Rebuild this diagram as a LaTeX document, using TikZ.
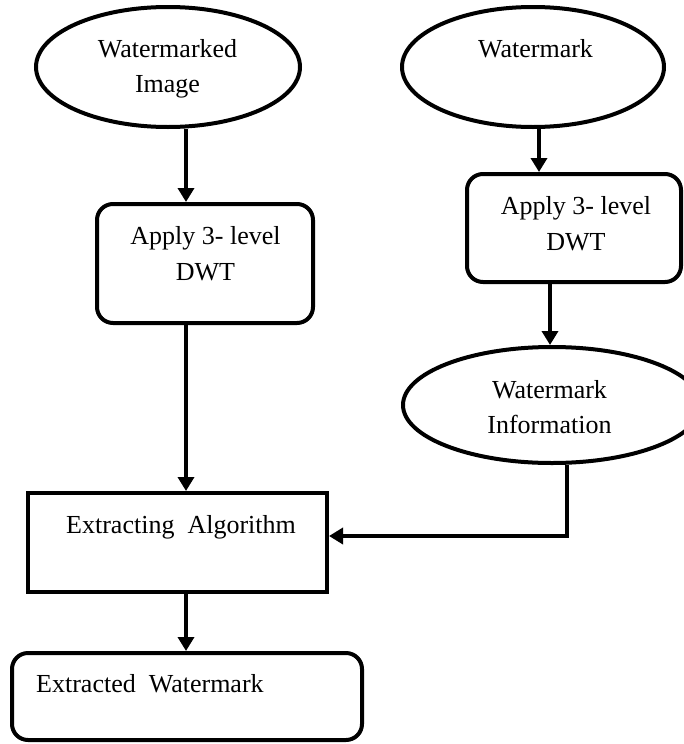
\documentclass[tikz,border=0pt]{standalone}
\usepackage{fontspec}
\setmainfont{Liberation Serif}
\usetikzlibrary{shapes.geometric,arrows.meta}
\begin{document}
\begin{tikzpicture}[x=1pt,y=-1pt,
  every node/.style={font=\fontsize{26}{35.5}\selectfont},
  shapeline/.style={draw=black,line width=4pt,inner sep=0pt},
  oval/.style={shapeline,ellipse},
  rbox/.style={shapeline,rectangle,rounded corners=16pt},
  sbox/.style={shapeline,rectangle},
  txt/.style={inner sep=0pt,align=center},
  flow/.style={line width=4pt,-{Triangle[length=14pt,width=16pt]}}]
\useasboundingbox (0,0) rectangle (684,744);

% shapes
\node[oval,minimum width=264pt,minimum height=120pt] (wimg) at (168,67) {};
\node[oval,minimum width=262pt,minimum height=120pt] (wm) at (533,67) {};
\node[rbox,minimum width=216pt,minimum height=119pt] (dwt1) at (205,263.5) {};
\node[rbox,minimum width=214pt,minimum height=108pt] (dwt2) at (574,228) {};
\node[oval,minimum width=298pt,minimum height=116pt] (info) at (552,405) {};
\node[sbox,minimum width=299pt,minimum height=99pt] (ext) at (177.5,542.5) {};
\node[rbox,minimum width=350pt,minimum height=87pt] (out) at (187,696.5) {};

% texts
\node[txt] (wimgT) at (167.5,68.7) {Watermarked\\Image};
\node[txt,anchor=base] (wmT) at (535.5,57) {Watermark};
\node[txt] (dwt1T) at (205.5,253.9) {Apply 3- level\\DWT};
\node[txt] (dwt2T) at (576,223.9) {Apply 3- level\\DWT};
\node[txt] (infoT) at (549.5,406.9) {Watermark\\Information};
\node[txt,anchor=base] (extT) at (181,533) {Extracting\ \ Algorithm};
\node[txt,anchor=base west] (outT) at (36,692) {Extracted\ \ Watermark};

% connector columns
\coordinate (colL) at (186,0);
\coordinate (colM) at (539,0);
\coordinate (colN) at (550,0);
\coordinate (bend) at (567,536);

% connectors
\draw[flow] (colL |- wimg.south) -- (colL |- dwt1.north);
\draw[flow] (colL |- dwt1.south) -- (colL |- ext.north);
\draw[flow] (colM |- wm.south) -- (colM |- dwt2.north);
\draw[flow] (colN |- dwt2.south) -- (colN |- info.north);
\draw[flow] (bend |- info.south) -- (bend) -- (bend -| ext.east);
\draw[flow] (colL |- ext.south) -- (colL |- out.north);
\end{tikzpicture}
\end{document}
